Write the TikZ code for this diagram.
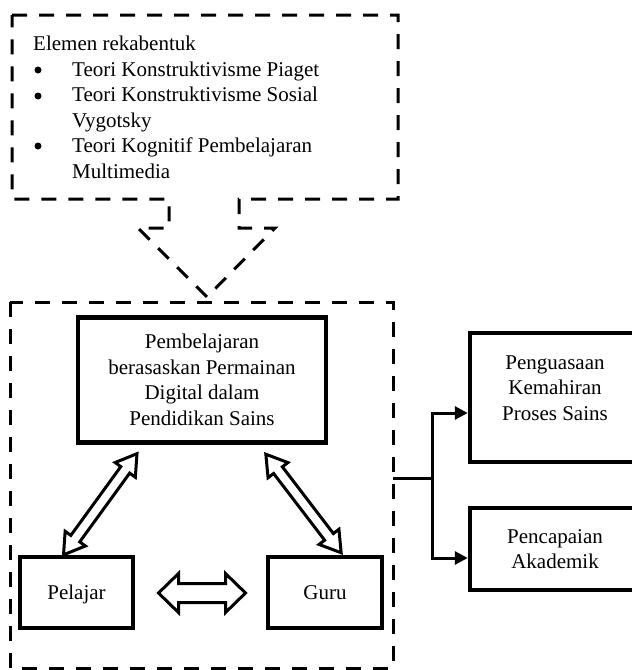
\documentclass[tikz,border=0pt]{standalone}
\usepackage{fontspec}
\setmainfont{Liberation Serif}
\usetikzlibrary{calc,arrows.meta}
\tikzset{
  dashline/.style={line width=3pt, dash pattern=on 15pt off 12pt},
  solidbox/.style={draw, line width=4.5pt, inner sep=0pt, align=center},
  txt/.style={inner sep=0pt, font=\fontsize{21}{25.5}\selectfont},
  arrowoutline/.style={draw, fill=white, line width=3pt, line join=miter},
  conn/.style={line width=3pt, -{Triangle[length=13pt,width=13pt]}},
  bulletdot/.style={circle, fill, inner sep=0pt, minimum size=7pt},
}
\newcommand\blockdbl[6]{%
  \draw[arrowoutline, shift={(#1)}, rotate=#2]
    ({-#3/2},0) -- ({-#3/2+#6},{#5/2}) -- ({-#3/2+#6},{#4/2}) -- ({#3/2-#6},{#4/2})
    -- ({#3/2-#6},{#5/2}) -- ({#3/2},0) -- ({#3/2-#6},{-#5/2}) -- ({#3/2-#6},{-#4/2})
    -- ({-#3/2+#6},{-#4/2}) -- ({-#3/2+#6},{-#5/2}) -- cycle;}
\begin{document}
\begin{tikzpicture}[x=1pt,y=-1pt]
\useasboundingbox (0,0) rectangle (632,670);
\clip (0,0) rectangle (632,670);

% callout
\draw[dashline] (12,15) -- (398,15) -- (398,199) -- (239,199) -- (239,228) -- (275,228)
  -- (207,297) -- (138,228) -- (169,228) -- (169,199) -- (12,199) -- cycle;
\node[txt, anchor=base west] (el) at (33,50) {Elemen rekabentuk};
\node[bulletdot] (b1) at (38,70) {};
\node[txt, anchor=base west] (t1) at (72,76) {Teori Konstruktivisme Piaget};
\node[bulletdot] (b2) at (38,96) {};
\node[txt, anchor=base west] (t2) at (72,101) {Teori Konstruktivisme Sosial};
\node[txt, anchor=base west] (t2b) at (72,127) {Vygotsky};
\node[bulletdot] (b3) at (38,146) {};
\node[txt, anchor=base west] (t3) at (72,152) {Teori Kognitif Pembelajaran};
\node[txt, anchor=base west] (t3b) at (72,178) {Multimedia};

% big dashed frame
\draw[dashline] (10,302) rectangle (393,668);
\coordinate (frameR) at (393,478);

% boxes
\node[solidbox, txt, minimum width=248pt, minimum height=125pt] (main) at (202,380)
  {Pembelajaran\\berasaskan Permainan\\Digital dalam\\Pendidikan Sains};
\node[solidbox, txt, text height=14pt, text depth=0pt, minimum width=113pt, minimum height=71pt] (pel) at (76.5,592.5) {Pelajar};
\node[solidbox, txt, text height=14pt, text depth=0pt, minimum width=114pt, minimum height=71pt] (guru) at (325,592.5) {Guru};

% double arrows
\coordinate (la1) at (62.5,556);
\coordinate (la2) at (138,452.5);
\coordinate (ra1) at (342,554);
\coordinate (ra2) at (265,453);
\coordinate (ha1) at (158,593);
\coordinate (ha2) at (246,593);
\blockdbl{$(la1)!0.5!(la2)$}{54}{125}{11}{25}{20}
\blockdbl{$(ra1)!0.5!(ra2)$}{127.4}{124}{11}{25}{20}
\blockdbl{$(ha1)!0.5!(ha2)$}{0}{87}{19}{39}{20}

% outcome boxes
\node[solidbox, minimum width=170pt, minimum height=129pt] (out1) at (555,397.5) {};
\node[txt, align=center] (out1t) at (555,388) {Penguasaan\\Kemahiran\\Proses Sains};
\node[solidbox, txt, minimum width=170pt, minimum height=82pt] (out2) at (555,549)
  {Pencapaian\\Akademik};

% connectors
\coordinate (split) at (432,478);
\draw[line width=3pt] (frameR) -- (split);
\draw[conn] (split) |- (out1.west |- 0,413);
\draw[conn] (split) |- (out2.west |- 0,558);
\end{tikzpicture}
\end{document}
